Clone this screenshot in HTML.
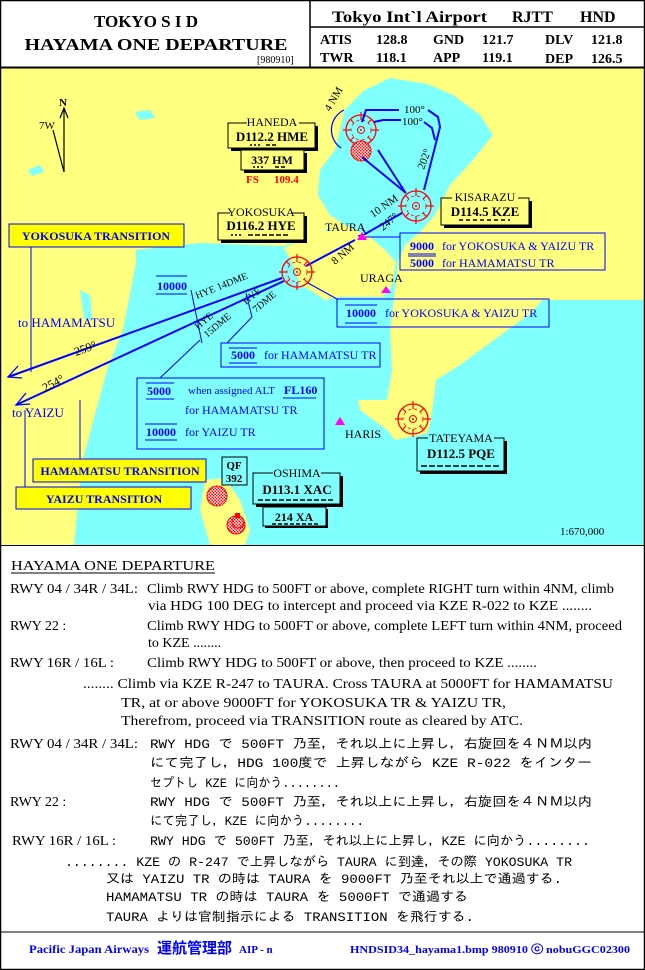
<!DOCTYPE html>
<html><head><meta charset="utf-8"><style>
html,body{margin:0;padding:0;background:#fff}
svg{display:block}
.s{font-family:"Liberation Serif","IPAGothic",serif}
.m{font-family:"Liberation Mono","IPAGothic","Noto Sans CJK JP",monospace}
</style></head><body>
<svg width="645" height="970" viewBox="0 0 645 970" xmlns="http://www.w3.org/2000/svg">
<defs>
<g id="vor">
<circle r="15" fill="none" stroke="#f00" stroke-width="1.3"/>
<circle r="10" fill="none" stroke="#f00" stroke-width="0.8" stroke-dasharray="3 3"/>
<circle r="3.5" fill="none" stroke="#f00" stroke-width="1"/>
<circle r="1" fill="#f00"/>
<g stroke="#f00" stroke-width="1.2">
<line x1="0" y1="-18" x2="0" y2="-10"/><line x1="0" y1="18" x2="0" y2="10"/>
<line x1="-18" y1="0" x2="-10" y2="0"/><line x1="18" y1="0" x2="10" y2="0"/>
<line x1="-11" y1="-11" x2="-7" y2="-7"/><line x1="11" y1="11" x2="7" y2="7"/>
<line x1="-11" y1="11" x2="-7" y2="7"/><line x1="11" y1="-11" x2="7" y2="-7"/>
</g></g>
<pattern id="hatch" width="3" height="3" patternUnits="userSpaceOnUse"><rect width="3" height="3" fill="#fff"/><rect width="1.5" height="1.5" fill="#f00"/><rect x="1.5" y="1.5" width="1.5" height="1.5" fill="#f00"/></pattern>
</defs>
<rect x="0" y="0" width="645" height="970" fill="#fff"/>
<!-- map -->
<rect x="0" y="68" width="645" height="477" fill="#ffff80"/>
<polygon fill="#80ffff" points="136,250 200,243 284,246 330,228 360,232 400,240 420,300 645,300 645,545 74,545 82,463 107,370 123,330 136,263"/>
<polygon fill="#80ffff" points="345,110 363,91 390,78 427,84 453,95 480,115 493,135 473,160 450,185 435,215 420,232 405,245 398,262 395,300 385,330 370,300 360,260 370,237 345,225 330,215 318,195 320,170 335,150 340,130"/>
<polygon fill="#ffff80" points="493,135 500,100 520,68 645,68 645,120 615,150 597,175 580,230 560,280 531,313 494,340 460,365 436,380 432,413 428,433 395,440 387,430 360,410 358,400 387,400 392,370 390,330 395,290 398,262 405,245 420,232 435,215 450,185 473,160"/>
<polygon fill="#ffff80" points="284,248 300,240 320,232 345,225 370,237 385,250 396,262 392,285 383,297 340,297 325,300 310,290 300,285 292,262"/>
<polygon fill="#ffff80" points="205,480 225,478 240,500 250,530 245,545 210,545 200,510"/>
<polygon fill="#80ffff" points="135,112 150,110 155,118 140,120"/>
<polygon fill="#80ffff" points="28,170 40,165 44,172 32,176"/>
<polygon fill="#80ffff" points="80,290 90,295 92,320 84,318"/>

<!-- north arrow -->
<g stroke="#000" fill="none" stroke-width="1.2"><line x1="64" y1="108" x2="64" y2="172"/><line x1="53" y1="130" x2="64" y2="172"/><polyline points="60,118 64,108 68,118"/></g>
<text x="59" y="106" class="s" font-size="11" font-weight="bold">N</text>
<text x="39" y="129" class="s" font-size="11">7W</text>

<!-- Haneda -->
<use href="#vor" x="361" y="130"/>
<circle cx="361" cy="151" r="10" fill="url(#hatch)" stroke="#f00"/>
<path d="M344,110 A22,22 0 0 0 341,148" fill="none" stroke="#00f" stroke-width="1.2"/>
<text x="330" y="112" class="s" font-size="11" transform="rotate(-60 330 112)">4 NM</text>
<g fill="none" stroke="#00f" stroke-width="2">
<polyline points="362,122 366,110 399,110"/><polyline points="428,110 438,117 440,127 436,143"/>
<polyline points="374,122 383,120 401,120"/><polyline points="424,122 432,128 435,140"/>
<line x1="436" y1="143" x2="424" y2="190"/>
<line x1="362" y1="157" x2="406" y2="193"/><line x1="378" y1="150" x2="405" y2="192"/>
<line x1="402" y1="213" x2="365" y2="234"/><line x1="355" y1="240" x2="306" y2="266"/>
<polyline points="282,278 8,377"/><polyline points="284,281 16,405"/>
</g>
<g fill="none" stroke="#00f" stroke-width="1.3"><polyline points="18,366 8,377 22,378"/><polyline points="26,393 16,405 30,404"/><polyline points="362,228 366,234 358,236"/></g>
<rect x="70" y="340" width="38" height="14" fill="#80ffff" transform="rotate(-20 88 348)" opacity="0"/>
<text x="404" y="113" class="s" font-size="11">100°</text>
<text x="402" y="125" class="s" font-size="11">100°</text>
<text x="424" y="170" class="s" font-size="11" transform="rotate(-70 424 170)">202°</text>
<text x="373" y="218" class="s" font-size="11" transform="rotate(-35 373 218)">10 NM</text>
<text x="383" y="231" class="s" font-size="11" transform="rotate(-40 383 231)">247°</text>
<text x="335" y="265" class="s" font-size="11" transform="rotate(-40 335 265)">8 NM</text>
<text x="76" y="356" class="s" font-size="12" transform="rotate(-20 76 356)" fill="#000">259°</text>
<text x="45" y="392" class="s" font-size="12" transform="rotate(-28 45 392)" fill="#000">254°</text>
<text x="197" y="299" class="s" font-size="10" transform="rotate(-22 197 299)">HYE 14DME</text>
<text x="246" y="305" class="s" font-size="10" transform="rotate(-40 246 305)">HYE</text>
<text x="256" y="313" class="s" font-size="10" transform="rotate(-40 256 313)">7DME</text>
<text x="198" y="330" class="s" font-size="10" transform="rotate(-40 198 330)">HYE</text>
<text x="207" y="338" class="s" font-size="10" transform="rotate(-40 207 338)">15DME</text>
<g stroke="#00f" stroke-width="1"><line x1="191" y1="290" x2="202" y2="343"/><line x1="246" y1="293" x2="252" y2="317"/>
<line x1="227" y1="343" x2="252" y2="317"/><line x1="160" y1="378" x2="200" y2="340"/>
<line x1="362" y1="237" x2="400" y2="237"/><line x1="308" y1="283" x2="337" y2="299"/>
<line x1="31" y1="247" x2="31" y2="372"/><line x1="80" y1="400" x2="80" y2="459"/><line x1="25" y1="410" x2="25" y2="488"/></g>

<!-- KZE, HYE, Tateyama VORs -->
<use href="#vor" x="416" y="206"/>
<use href="#vor" x="297" y="272"/>
<use href="#vor" x="413" y="419"/>
<circle cx="217" cy="496" r="10" fill="url(#hatch)" stroke="#f00"/>
<circle cx="236" cy="525" r="9" fill="url(#hatch)" stroke="#f00"/>
<circle cx="238" cy="522" r="6" fill="none" stroke="#f00"/>
<rect x="235" y="513" width="5" height="5" fill="#f00"/>

<!-- triangles -->
<polygon points="357,240 362,232 367,240" fill="#f0f"/>
<polygon points="381,293 386,286 391,293" fill="#f0f"/>
<polygon points="335,425 340,417 345,425" fill="#f0f"/>
<text x="325" y="231" class="s" font-size="12">TAURA</text>
<text x="360" y="282" class="s" font-size="12">URAGA</text>
<text x="345" y="438" class="s" font-size="12">HARIS</text>

<!-- VOR boxes -->
<g class="s">
<rect x="231" y="126" width="87" height="25" fill="#000"/><rect x="228" y="123" width="87" height="25" fill="#ffff80" stroke="#000"/>
<rect x="244" y="153" width="63" height="20" fill="#000"/><rect x="241" y="150" width="63" height="20" fill="#ffff80" stroke="#000"/>
<rect x="247" y="116" width="52" height="10" fill="#ffff80"/><text x="272" y="126" font-size="12" text-anchor="middle">HANEDA</text>
<text x="272" y="141" font-size="13" font-weight="bold" text-anchor="middle">D112.2 HME</text>
<text x="272" y="164" font-size="12" font-weight="bold" text-anchor="middle">337 HM</text>
<text x="246" y="183" font-size="11" font-weight="bold" fill="#f00">FS</text><text x="274" y="183" font-size="11" font-weight="bold" fill="#f00">109.4</text>

<rect x="221" y="216" width="86" height="27" fill="#000"/><rect x="218" y="213" width="86" height="27" fill="#ffff80" stroke="#000"/>
<rect x="230" y="206" width="62" height="10" fill="#ffff80"/><text x="261" y="216" font-size="12" text-anchor="middle">YOKOSUKA</text>
<text x="261" y="230" font-size="13" font-weight="bold" text-anchor="middle">D116.2 HYE</text>

<rect x="444" y="201" width="88" height="27" fill="#000"/><rect x="441" y="198" width="88" height="27" fill="#ffff80" stroke="#000"/>
<rect x="452" y="190" width="66" height="10" fill="#ffff80"/><text x="485" y="201" font-size="12" text-anchor="middle">KISARAZU</text>
<text x="485" y="216" font-size="13" font-weight="bold" text-anchor="middle">D114.5 KZE</text>

<rect x="420" y="441" width="87" height="33" fill="#000"/><rect x="417" y="438" width="87" height="33" fill="#80ffff" stroke="#000"/>
<rect x="428" y="430" width="66" height="10" fill="#80ffff"/><text x="461" y="442" font-size="12" text-anchor="middle">TATEYAMA</text>
<text x="461" y="458" font-size="13" font-weight="bold" text-anchor="middle">D112.5 PQE</text>

<rect x="256" y="476" width="87" height="31" fill="#000"/><rect x="253" y="473" width="87" height="31" fill="#80ffff" stroke="#000"/>
<rect x="273" y="466" width="48" height="10" fill="#80ffff"/><text x="297" y="477" font-size="12" text-anchor="middle">OSHIMA</text>
<text x="297" y="494" font-size="13" font-weight="bold" text-anchor="middle">D113.1 XAC</text>
<rect x="265" y="509" width="63" height="19" fill="#000"/><rect x="263" y="507" width="63" height="19" fill="#80ffff" stroke="#000"/>
<text x="294" y="521" font-size="12" font-weight="bold" text-anchor="middle">214 XA</text>
<rect x="222" y="457" width="25" height="28" fill="#80ffff" stroke="#000"/>
<text x="234" y="469" font-size="11" font-weight="bold" text-anchor="middle">QF</text><text x="234" y="482" font-size="11" font-weight="bold" text-anchor="middle">392</text>
</g>
<g stroke="#000" stroke-width="1.5" stroke-dasharray="2 2"><line x1="250" y1="145" x2="262" y2="145"/><line x1="266" y1="145" x2="278" y2="145" stroke-dasharray="4 2"/>
<line x1="253" y1="167" x2="265" y2="167"/><line x1="275" y1="167" x2="285" y2="167" stroke-dasharray="4 2"/>
<line x1="231" y1="235" x2="243" y2="235"/><line x1="248" y1="235" x2="290" y2="235" stroke-dasharray="5 2"/>
<line x1="459" y1="220" x2="510" y2="220" stroke-dasharray="4 3"/>
<line x1="421" y1="466" x2="500" y2="466" stroke-dasharray="6 2"/>
<line x1="258" y1="500" x2="335" y2="500" stroke-dasharray="5 2"/>
<line x1="272" y1="524" x2="318" y2="524" stroke-dasharray="4 2"/></g>

<!-- blue info boxes -->
<g class="s" fill="#00f" font-size="12">
<rect x="400" y="233" width="205" height="37" fill="none" stroke="#00f"/>
<text x="410" y="250" font-weight="bold">9000</text><line x1="408" y1="254" x2="436" y2="254" stroke="#00f"/><text x="442" y="250">for YOKOSUKA  &amp;  YAIZU  TR</text>
<text x="410" y="267" font-weight="bold">5000</text><line x1="408" y1="256" x2="436" y2="256" stroke="#00f"/><text x="442" y="267">for HAMAMATSU TR</text>
<rect x="337" y="299" width="212" height="28" fill="none" stroke="#00f"/>
<text x="346" y="317" font-weight="bold">10000</text><line x1="345" y1="323" x2="377" y2="323" stroke="#00f"/><text x="385" y="317">for YOKOSUKA  &amp;  YAIZU  TR</text>
<line x1="345" y1="305" x2="377" y2="305" stroke="#00f"/>
<text x="157" y="290" font-weight="bold">10000</text><line x1="156" y1="276" x2="187" y2="276" stroke="#00f"/><line x1="156" y1="294" x2="187" y2="294" stroke="#00f"/>
<rect x="221" y="343" width="159" height="24" fill="none" stroke="#00f"/>
<text x="231" y="359" font-weight="bold">5000</text><line x1="229" y1="348" x2="257" y2="348" stroke="#00f"/><line x1="229" y1="363" x2="257" y2="363" stroke="#00f"/><text x="264" y="359">for HAMAMATSU TR</text>
<rect x="137" y="378" width="187" height="71" fill="none" stroke="#00f"/>
<text x="147" y="395" font-weight="bold">5000</text><line x1="146" y1="383" x2="174" y2="383" stroke="#00f"/><line x1="146" y1="399" x2="174" y2="399" stroke="#00f"/>
<text x="188" y="394" font-size="11">when assigned ALT</text><text x="284" y="394" font-weight="bold">FL160</text><line x1="283" y1="398" x2="316" y2="398" stroke="#00f"/>
<text x="185" y="414">for HAMAMATSU TR</text>
<text x="146" y="436" font-weight="bold">10000</text><line x1="145" y1="424" x2="177" y2="424" stroke="#00f"/><line x1="145" y1="440" x2="177" y2="440" stroke="#00f"/><text x="185" y="436">for  YAIZU  TR</text>
<text x="18" y="327" font-size="13">to  HAMAMATSU</text>
<text x="12" y="417" font-size="13">to  YAIZU</text>
</g>
<g class="s" font-weight="bold" font-size="12" fill="#00f" text-anchor="middle">
<rect x="9" y="224" width="175" height="23" fill="#ffff00" stroke="#00f"/><text x="96" y="240">YOKOSUKA  TRANSITION</text>
<rect x="33" y="459" width="173" height="23" fill="#ffff00" stroke="#00f"/><text x="120" y="475">HAMAMATSU  TRANSITION</text>
<rect x="16" y="487" width="175" height="22" fill="#ffff00" stroke="#00f"/><text x="104" y="503">YAIZU  TRANSITION</text>
</g>
<text x="560" y="535" class="s" font-size="11">1:670,000</text>

<!-- header -->
<g class="s" font-weight="bold">
<text x="146" y="27" font-size="17" text-anchor="middle">TOKYO  S I D</text>
<text x="156" y="50" font-size="17" text-anchor="middle" textLength="263" lengthAdjust="spacingAndGlyphs">HAYAMA  ONE  DEPARTURE</text>
<text x="332" y="22" font-size="16" textLength="155" lengthAdjust="spacingAndGlyphs">Tokyo Int`l Airport</text>
<text x="512" y="22" font-size="16">RJTT</text><text x="580" y="22" font-size="16">HND</text>
<g font-size="14"><text x="320" y="44">ATIS</text><text x="376" y="44">128.8</text><text x="433" y="44">GND</text><text x="482" y="44">121.7</text><text x="545" y="44">DLV</text><text x="591" y="44">121.8</text>
<text x="320" y="62">TWR</text><text x="376" y="62">118.1</text><text x="433" y="62">APP</text><text x="482" y="62">119.1</text><text x="545" y="63">DEP</text><text x="591" y="63">126.5</text></g>
</g>
<text x="257" y="63" class="s" font-size="10">[980910]</text>
<line x1="310" y1="0" x2="310" y2="67" stroke="#000" stroke-width="1.5"/>
<line x1="310" y1="27" x2="645" y2="27" stroke="#000" stroke-width="1.5"/>
<line x1="0" y1="67.5" x2="645" y2="67.5" stroke="#000" stroke-width="2"/>
<line x1="0" y1="545.5" x2="645" y2="545.5" stroke="#000" stroke-width="1"/>

<!-- text -->
<g class="s" font-size="14" fill="#000">
<text x="11" y="570" textLength="204" lengthAdjust="spacingAndGlyphs">HAYAMA  ONE  DEPARTURE</text><line x1="11" y1="573" x2="215" y2="573" stroke="#000"/>
<text x="10" y="593" textLength="128" lengthAdjust="spacingAndGlyphs">RWY 04 / 34R / 34L:</text>
<text x="147" y="593" textLength="467" lengthAdjust="spacingAndGlyphs">Climb RWY HDG to 500FT or above, complete RIGHT turn within 4NM, climb</text>
<text x="148" y="610" textLength="444" lengthAdjust="spacingAndGlyphs">via  HDG 100 DEG  to intercept and proceed via KZE R-022 to KZE  ........</text>
<text x="10" y="630">RWY 22 :</text>
<text x="147" y="630" textLength="475" lengthAdjust="spacingAndGlyphs">Climb RWY HDG to 500FT or above, complete LEFT turn within 4NM, proceed</text>
<text x="148" y="647">to  KZE ........</text>
<text x="10" y="667" textLength="104" lengthAdjust="spacingAndGlyphs">RWY 16R / 16L :</text>
<text x="147" y="667" textLength="390" lengthAdjust="spacingAndGlyphs">Climb RWY HDG to 500FT or above, then proceed to KZE  ........</text>
<text x="83" y="688" textLength="530" lengthAdjust="spacingAndGlyphs">........ Climb via KZE R-247 to TAURA.  Cross TAURA at  5000FT for HAMAMATSU</text>
<text x="121" y="707" textLength="385" lengthAdjust="spacingAndGlyphs">TR, at or above 9000FT for YOKOSUKA TR  &amp;  YAIZU  TR,</text>
<text x="121" y="725" textLength="402" lengthAdjust="spacingAndGlyphs">Therefrom,  proceed   via  TRANSITION route as cleared by ATC.</text>
<text x="10" y="748" textLength="128" lengthAdjust="spacingAndGlyphs">RWY 04 / 34R / 34L:</text>
<text x="10" y="806">RWY 22 :</text>
<text x="12" y="845" textLength="104" lengthAdjust="spacingAndGlyphs">RWY 16R / 16L :</text>
</g>
<g class="m" font-size="13" fill="#000">
<text x="150" y="748" textLength="442" lengthAdjust="spacingAndGlyphs">RWY HDG  で 500FT 乃至，それ以上に上昇し，右旋回を４ＮＭ以内</text>
<text x="150" y="767" textLength="442" lengthAdjust="spacingAndGlyphs">にて完了し，HDG 100度で  上昇しながら KZE R-022 をインター</text>
<text x="150" y="787" textLength="190" lengthAdjust="spacingAndGlyphs">セプトし KZE に向かう........</text>
<text x="150" y="806" textLength="442" lengthAdjust="spacingAndGlyphs">RWY HDG  で 500FT 乃至，それ以上に上昇し，右旋回を４ＮＭ以内</text>
<text x="150" y="825" textLength="214" lengthAdjust="spacingAndGlyphs">にて完了し，KZE に向かう........</text>
<text x="150" y="845" textLength="440" lengthAdjust="spacingAndGlyphs">RWY HDG  で 500FT 乃至，それ以上に上昇し，KZE に向かう........</text>
<text x="65" y="866" textLength="507" lengthAdjust="spacingAndGlyphs">........ KZE の R-247 で上昇しながら TAURA に到達，その際 YOKOSUKA TR</text>
<text x="106" y="883" textLength="456" lengthAdjust="spacingAndGlyphs">又は YAIZU TR の時は TAURA を 9000FT 乃至それ以上で通過する.</text>
<text x="106" y="901" textLength="362" lengthAdjust="spacingAndGlyphs">HAMAMATSU TR の時は TAURA を 5000FT で通過する</text>
<text x="106" y="921" textLength="368" lengthAdjust="spacingAndGlyphs">TAURA よりは官制指示による TRANSITION を飛行する.</text>
</g>
<line x1="0" y1="932" x2="645" y2="932" stroke="#000" stroke-width="1"/>
<g class="s" font-weight="bold" fill="#00f">
<text x="29" y="953" font-size="12" textLength="120" lengthAdjust="spacingAndGlyphs">Pacific Japan Airways</text>
<text x="157" y="953" font-size="15" font-family="'Noto Sans CJK JP',sans-serif">運航管理部</text>
<text x="239" y="953" font-size="11">AIP - n</text>
<text x="350" y="953" font-size="11" textLength="280" lengthAdjust="spacingAndGlyphs">HNDSID34_hayama1.bmp  980910 ⓒ nobuGGC02300</text>
</g>
<rect x="0.5" y="0.5" width="644" height="969" fill="none" stroke="#000" stroke-width="1.5"/>
</svg>
</body></html>
